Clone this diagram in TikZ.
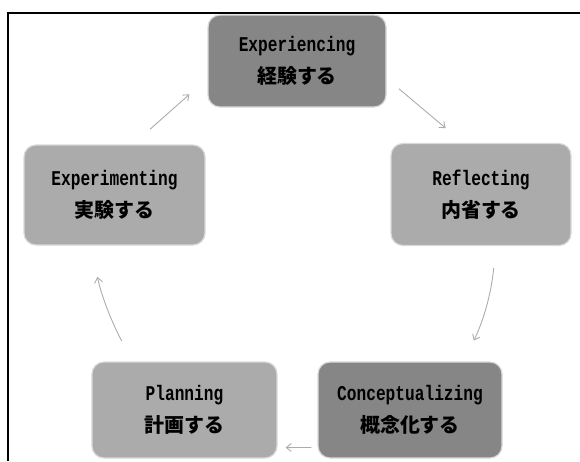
\documentclass[tikz,border=0pt]{standalone}
\usepackage{fontspec}
\newfontfamily\enfont[FakeStretch=0.77]{Liberation Mono}
\newfontfamily\jafont[Scale=1.05]{Noto Sans CJK JP}
\usetikzlibrary{arrows.meta,positioning}
\definecolor{darkstage}{HTML}{868686}
\definecolor{lightstage}{HTML}{ABABAB}

\begin{document}
\begin{tikzpicture} [
    x = 1pt, y = -1pt,
    inner sep = 0,
    stage/.style = { draw = gray!30, line width = 1.2pt, rounded corners = 12pt,
        align = center, font = {\fontsize{21}{32}\selectfont\bfseries} },
    dark/.style = { fill = darkstage },
    light/.style = { fill = lightstage },
    cyc/.style = { draw = gray!65, line width = 0.9pt, -{Straight Barb[length=5pt, width=8pt]} }
    ]

    \useasboundingbox (0,0) rectangle (580,461);
    \draw[line width = 1.2pt] (8,461) -- (8,13) -- (580,13);

    \node [stage, dark, minimum width = 178pt, minimum height = 92pt] (exp) at (297,61)
        {{\enfont Experiencing}\\{\jafont\fontsize{19}{32}\selectfont 経験する}};
    \node [stage, light, minimum width = 180pt, minimum height = 102pt] (refl) at (481,194.5)
        {{\enfont Reflecting}\\{\jafont\fontsize{19}{32}\selectfont 内省する}};
    \node [stage, dark, minimum width = 184pt, minimum height = 96pt] (conc) at (410,410)
        {{\enfont Conceptualizing}\\{\jafont\fontsize{19}{32}\selectfont 概念化する}};
    \node [stage, light, minimum width = 185pt, minimum height = 96pt] (plan) at (184.5,410)
        {{\enfont Planning}\\{\jafont\fontsize{19}{32}\selectfont 計画する}};
    \node [stage, light, minimum width = 181pt, minimum height = 100pt] (expm) at (114.5,195)
        {{\enfont Experimenting}\\{\jafont\fontsize{19}{32}\selectfont 実験する}};

    \draw [cyc, shorten <= 16pt, shorten >= 23pt] (exp.349) -- (refl.109);
    \draw [cyc, shorten <= 22pt, shorten >= 23pt] (refl.-74) to [bend left = 10] (conc.42);
    \draw [cyc, shorten <= 6pt, shorten >= 8pt] (conc.202) -- (plan.-22);
    \draw [cyc, shorten <= 23pt, shorten >= 32pt] (plan.137) to [bend left = 8] (expm.245);
    \draw [cyc, shorten <= 23pt, shorten >= 24pt] (expm.70) -- (exp.191);

\end{tikzpicture}
\end{document}
